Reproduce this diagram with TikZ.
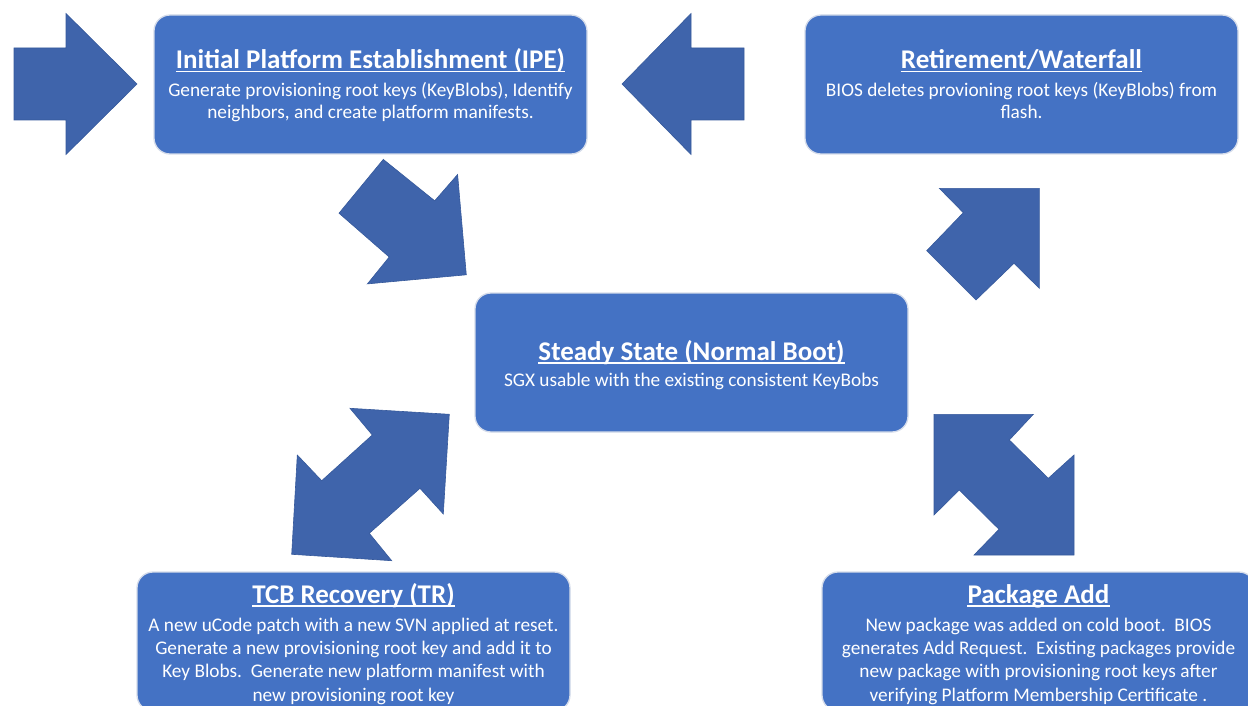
\documentclass[tikz,border=0pt]{standalone}
\usepackage{fontspec}
\setmainfont{Carlito}
\definecolor{boxblue}{HTML}{4472C4}
\definecolor{arrblue}{HTML}{3F64AB}
\definecolor{arredge}{HTML}{36599B}
\definecolor{boxedge}{HTML}{D5DCEA}
\tikzset{
  box/.style={draw=boxedge, line width=1.3pt, fill=boxblue, rounded corners=16pt,
    minimum width=433pt, minimum height=139pt, inner sep=0pt},
  ttl/.style={font=\fontsize{27}{32}\selectfont\bfseries, text=white, inner sep=0pt, anchor=base},
  bod/.style={font=\fontsize{19.3}{23}\selectfont, text=white, inner sep=0pt, anchor=base},
  uline/.style={draw=white, line width=1.5pt},
  blockarrow/.style={fill=arrblue, draw=arredge, line width=0.6pt, line join=miter},
}
\begin{document}
\begin{tikzpicture}[x=1pt,y=-1pt]
\useasboundingbox (0,0) rectangle (1248,706);
\clip (0,0) rectangle (1248,706);

% boxes
\node[box] (ipe) at (370.5,84.5) {};
\node[box] (ret) at (1021.5,84.5) {};
\node[box] (ss)  at (691.5,362.5) {};
\node[box] (tcb) at (353.5,641.5) {};
\node[box] (pkg) at (1038.5,641.5) {};

% block arrows
\draw[blockarrow] (14,48) -- (66,48) -- (66,13.5) -- (137,84) -- (66,154.5) -- (66,120) -- (14,120) -- cycle;
\draw[blockarrow] (744,48) -- (691,48) -- (691,13.5) -- (622,84) -- (691,154.5) -- (691,120) -- (744,120) -- cycle;
\draw[blockarrow] (383.3,159.4) -- (434.7,200.8) -- (457.6,174.5) -- (466.3,274.8) -- (367.4,283.9) -- (389.2,257) -- (339,213.2) -- cycle;
\draw[blockarrow] (939.3,188.3) -- (1039.3,188.3) -- (1039.3,288.3) -- (1014,263.3) -- (976,300) -- (926.7,250.7) -- (963.3,212.7) -- cycle;
\draw[blockarrow] (350,408.3) -- (449.3,414.3) -- (443.3,514) -- (420,488.3) -- (369.3,533.3) -- (391.7,560.7) -- (291.7,554.3) -- (297.3,455) -- (321.7,480.7) -- (372.3,435) -- cycle;
\draw[blockarrow] (934,414.3) -- (1033.3,414.3) -- (1009.3,440) -- (1048.3,478.3) -- (1074,455) -- (1074,555) -- (974,555) -- (999,529.3) -- (959.3,490) -- (934,515) -- cycle;

% IPE
\node[ttl] (ipeT) at (370.5,68.5) {Initial Platform Establishment (IPE)};
\draw[uline] ([yshift=-3pt]ipeT.base west) -- ([yshift=-3pt]ipeT.base east);
\node[bod] (ipe1) at (370.5,96.5) {Generate provisioning root keys (KeyBlobs), Identify};
\node[bod] (ipe2) at (370.5,118.5) {neighbors, and create platform manifests.};

% Retirement
\node[ttl] (retT) at (1021.5,68.5) {Retirement/Waterfall};
\draw[uline] ([yshift=-3pt]retT.base west) -- ([yshift=-3pt]retT.base east);
\node[bod] (ret1) at (1021.5,96.5) {BIOS deletes provioning root keys (KeyBlobs) from};
\node[bod] (ret2) at (1021.5,118.5) {flash.};

% Steady state
\node[ttl] (ssT) at (691.5,360) {Steady State (Normal Boot)};
\draw[uline] ([yshift=-3pt]ssT.base west) -- ([yshift=-3pt]ssT.base east);
\node[bod] (ss1) at (691.5,386) {SGX usable with the existing consistent KeyBobs};

% TCB
\node[ttl] (tcbT) at (353.5,603) {TCB Recovery (TR)};
\draw[uline] ([yshift=-3pt]tcbT.base west) -- ([yshift=-3pt]tcbT.base east);
\node[bod] (tcb1) at (353.5,631) {A new uCode patch with a new SVN applied at reset.};
\node[bod] (tcb2) at (353.5,654.3) {Generate a new provisioning root key and add it to};
\node[bod] (tcb3) at (353.5,677.7) {Key Blobs.\ \ Generate new platform manifest with};
\node[bod] (tcb4) at (353.5,701) {new provisioning root key};

% Package add
\node[ttl] (pkgT) at (1038.5,603) {Package Add};
\draw[uline] ([yshift=-3pt]pkgT.base west) -- ([yshift=-3pt]pkgT.base east);
\node[bod] (pkg1) at (1038.5,631) {New package was added on cold boot.\ \ BIOS};
\node[bod] (pkg2) at (1038.5,654.3) {generates Add Request.\ \ Existing packages provide};
\node[bod] (pkg3) at (1038.5,677.7) {new package with provisioning root keys after};
\node[bod] (pkg4) at (1038.5,701) {verifying Platform Membership Certificate .};
\end{tikzpicture}
\end{document}
